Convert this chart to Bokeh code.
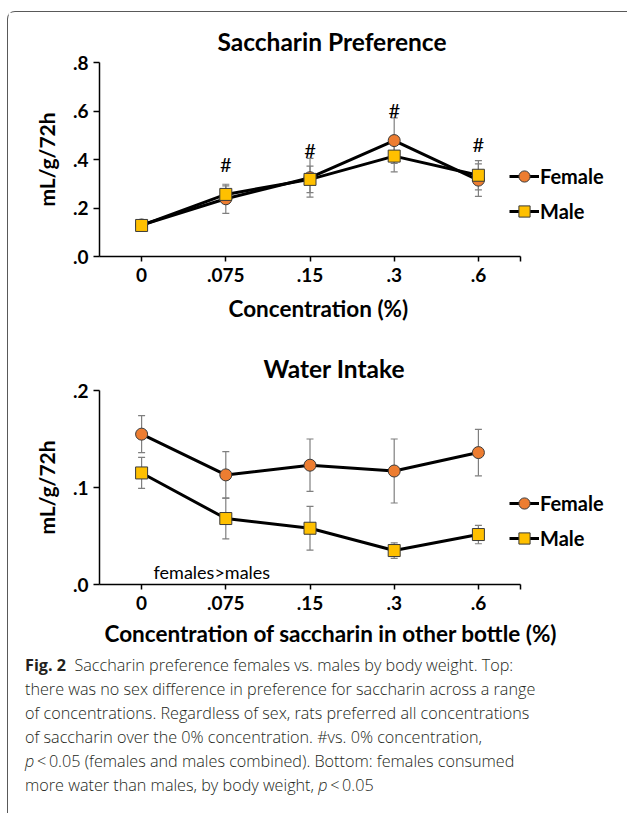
from bokeh.plotting import figure
from bokeh.models import (Range1d, FixedTicker, ColumnDataSource, Whisker, TeeHead,
                          Legend, LegendItem, Label, Div, Title)
from bokeh.layouts import column
from bokeh.core.properties import value
from bokeh.embed import file_html
from bokeh.resources import INLINE

# ---------------- data ----------------
categories = ["0", ".075", ".15", ".3", ".6"]

pref_female = [0.130, 0.238, 0.325, 0.478, 0.315]
pref_female_err = [0.012, 0.060, 0.080, 0.094, 0.067]
pref_male = [0.128, 0.256, 0.318, 0.414, 0.335]
pref_male_err = [0.012, 0.035, 0.055, 0.065, 0.060]

sig_categories = [".075", ".15", ".3", ".6"]
sig_y = [0.380, 0.441, 0.603, 0.462]

water_female = [0.155, 0.113, 0.123, 0.117, 0.136]
water_female_err = [0.019, 0.024, 0.027, 0.033, 0.024]
water_male = [0.115, 0.068, 0.058, 0.035, 0.0515]
water_male_err = [0.016, 0.021, 0.0225, 0.008, 0.0095]

top_y_ticks = [0, 0.2, 0.4, 0.6, 0.8]
top_y_labels = [".0", ".2", ".4", ".6", ".8"]
bot_y_ticks = [0, 0.1, 0.2]
bot_y_labels = [".0", ".1", ".2"]

FONT = "Lato"
FEMALE_FILL = "#ED7D31"
MALE_FILL = "#FFC000"
ERR_COLOR = "#7f7f7f"


def make_chart(title, xlabel, female, female_err, male, male_err, y_ticks, y_labels,
               borders, title_offset, title_standoff, xlabel_offset, xlabel_standoff,
               legend_loc):
    bl, br, bt, bb = borders
    n = len(categories)
    xs = list(range(n))
    p = figure(frame_width=421, frame_height=194,
               min_border_left=bl, min_border_right=br, min_border_top=bt, min_border_bottom=bb,
               x_range=Range1d(-0.5, n - 0.5), y_range=Range1d(y_ticks[0], y_ticks[-1]),
               output_backend="svg", toolbar_location=None,
               background_fill_color="white", border_fill_color="white")
    p.outline_line_color = None
    p.grid.visible = False

    # title
    p.title.text = title
    p.title.align = "left"
    p.title.offset = title_offset
    p.title.text_font = FONT
    p.title.text_font_size = "24.5px"
    p.title.text_font_style = "bold"
    p.title.text_color = "black"
    p.title.standoff = title_standoff

    # axes
    xa = p.xaxis[0]
    xa.ticker = FixedTicker(ticks=xs + [n - 0.5])
    ov = {i: c for i, c in zip(xs, categories)}
    ov[n - 0.5] = ""
    xa.major_label_overrides = ov
    ya = p.yaxis[0]
    ya.ticker = FixedTicker(ticks=y_ticks)
    ya.major_label_overrides = {t: l for t, l in zip(y_ticks, y_labels)}
    ya.axis_label = "mL/g/72h"
    for ax in (xa, ya):
        ax.axis_line_color = "black"
        ax.axis_line_width = 1.5
        ax.major_tick_line_color = "black"
        ax.major_tick_line_width = 1.5
        ax.major_tick_in = 0
        ax.minor_tick_line_color = None
        ax.major_label_text_font = FONT
        ax.major_label_text_font_style = "bold"
        ax.major_label_text_font_size = "19px"
        ax.major_label_text_color = "black"
        ax.axis_label_text_font = FONT
        ax.axis_label_text_font_style = "bold"
        ax.axis_label_text_color = "black"
    xa.major_tick_out = 5
    xa.major_label_standoff = 6
    ya.major_tick_out = 6
    ya.major_label_standoff = 5
    ya.axis_label_standoff = 11
    ya.axis_label_text_font_size = "21px"

    # x-axis title (placed like the original, centred on the chart area)
    xt = Title(text=xlabel, align="left", offset=xlabel_offset, standoff=xlabel_standoff,
               text_font=FONT, text_font_size="22.5px", text_font_style="bold",
               text_color="black")
    p.add_layout(xt, "below")

    # error bars
    for vals, errs in ((female, female_err), (male, male_err)):
        src = ColumnDataSource(dict(x=xs, lower=[v - e for v, e in zip(vals, errs)],
                                    upper=[v + e for v, e in zip(vals, errs)]))
        w = Whisker(base="x", lower="lower", upper="upper", source=src,
                    line_color=ERR_COLOR, line_width=1.2, level="underlay",
                    upper_head=TeeHead(size=7, line_color=ERR_COLOR, line_width=1.2),
                    lower_head=TeeHead(size=7, line_color=ERR_COLOR, line_width=1.2))
        p.add_layout(w)

    lf = p.line(xs, female, line_color="black", line_width=3)
    lm = p.line(xs, male, line_color="black", line_width=3)
    sf = p.scatter(xs, female, marker="circle", size=12, fill_color=FEMALE_FILL,
                   line_color="#3a3a3a", line_width=1)
    sm = p.scatter(xs, male, marker="square", size=12, fill_color=MALE_FILL,
                   line_color="#3a3a3a", line_width=1)

    legend = Legend(items=[LegendItem(label="Female", renderers=[lf, sf]),
                           LegendItem(label="Male", renderers=[lm, sm])],
                    location=legend_loc, orientation="vertical",
                    glyph_width=30, glyph_height=28, label_height=28, spacing=7,
                    label_standoff=1, padding=0, margin=0,
                    border_line_color=None, background_fill_alpha=0,
                    label_text_font=FONT, label_text_font_style="bold",
                    label_text_font_size="20px", label_text_color="black")
    p.add_layout(legend, "right")
    return p, xs


p1, xs = make_chart("Saccharin Preference", "Concentration (%)",
                    pref_female, pref_female_err, pref_male, pref_male_err,
                    top_y_ticks, top_y_labels, (89, 104, 50, 73), 118, 13, 129, 16, (-11, 31))
sig_x = [categories.index(c) for c in sig_categories]
p1.text(sig_x, sig_y, text=["#"] * len(sig_x), text_font=value(FONT),
        text_font_size="20px", text_align="center", text_baseline="middle",
        text_color="black")

p2, _ = make_chart("Water Intake", "Concentration of saccharin in other bottle (%)",
                   water_female, water_female_err, water_male, water_male_err,
                   bot_y_ticks, bot_y_labels, (91, 102, 61, 65), 164, 16, 5, 10, (-11, 32))
p2.add_layout(Label(x=0, y=0, x_offset=12, y_offset=2, text="females>males",
                    text_font=FONT, text_font_size="18px", text_color="black",
                    text_baseline="bottom", text_align="left"))

caption_lines = [
    "<b style=\"font-weight:700\">Fig. 2</b>&nbsp; Saccharin preference females vs. males by body weight. Top:",
    "there was no sex difference in preference for saccharin across a range",
    "of concentrations. Regardless of sex, rats preferred all concentrations",
    "of saccharin over the 0% concentration. #vs. 0% concentration,",
    "<i>p</i>&thinsp;&lt;&thinsp;0.05 (females and males combined). Bottom: females consumed",
    "more water than males, by body weight, <i>p</i>&thinsp;&lt;&thinsp;0.05",
]
caption = Div(
    text='<div style="font-family:\'Open Sans\';font-weight:300;font-size:16.2px;line-height:24px;'
         'color:#231f20;white-space:nowrap;">' + "<br>".join(caption_lines) + "</div>",
    width=605, height=160, margin=(2, 0, 0, 17))

layout = column(p1, p2, caption, margin=(11, 0, 0, 7),
                styles={"border-left": "1.5px solid #595959",
                        "border-top": "1.5px solid #595959",
                        "border-top-left-radius": "8px"})

open("out.html", "w").write(file_html(layout, INLINE))
